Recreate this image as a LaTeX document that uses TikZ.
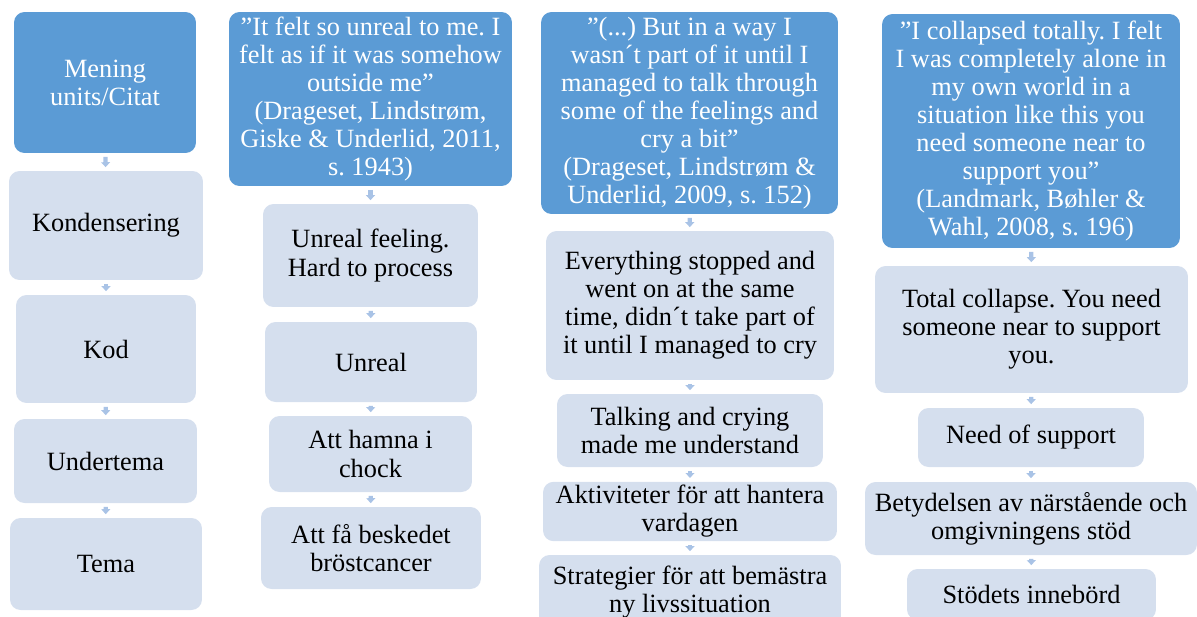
\documentclass[tikz,border=0pt]{standalone}
\usepackage{fontspec}
\setmainfont{Liberation Serif}
\usetikzlibrary{arrows.meta}
\definecolor{quotefill}{HTML}{5B9BD5}
\definecolor{stagefill}{HTML}{D5DFEE}
\definecolor{flowfill}{HTML}{A9C3E6}
\frenchspacing
\begin{document}
\begin{tikzpicture}[
  x=0.02cm, y=-0.02cm,
  every node/.style={font=\fontsize{15}{16}\selectfont, align=center, inner sep=2pt},
  quotebox/.style={rounded corners=6pt, fill=quotefill, text=white},
  stagebox/.style={rounded corners=6pt, fill=stagefill, text=black},
  flow/.style={draw=flowfill, line width=2.4pt, -{Triangle[length=2.8pt, width=5pt]},
    shorten <=2pt, shorten >=2pt},
]
  \useasboundingbox (0,0) rectangle (1197,616);
  \clip (0,0) rectangle (1197,616);
  % Steps of the analysis
  \node[quotebox, minimum width=3.64cm, minimum height=2.82cm] (men) at (105,82.5) {Mening\\units/Citat};
  \node[stagebox, minimum width=3.88cm, minimum height=2.18cm] (kon) at (106,225.5) {Kondensering};
  \node[stagebox, minimum width=3.60cm, minimum height=2.16cm] (kod) at (106,349) {Kod};
  \node[stagebox, minimum width=3.66cm, minimum height=1.68cm] (und) at (105.5,461) {Undertema};
  \node[stagebox, minimum width=3.84cm, minimum height=1.84cm] (tem) at (106,564) {Tema};
  % First quote
  \node[quotebox, minimum width=5.66cm, minimum height=3.48cm] (q1) at (370.5,99)
    {”It felt so unreal to me. I\\felt as if it was somehow\\outside me”\\(Drageset, Lindstrøm,\\Giske \& Underlid, 2011,\\s. 1943)};
  \node[stagebox, minimum width=4.30cm, minimum height=2.06cm] (c1) at (370.5,255.5) {Unreal feeling.\\Hard to process};
  \node[stagebox, minimum width=4.24cm, minimum height=1.60cm] (k1) at (371,362) {Unreal};
  \node[stagebox, minimum width=4.06cm, minimum height=1.52cm] (u1) at (370.5,454) {Att hamna i\\chock};
  \node[stagebox, minimum width=4.40cm, minimum height=1.64cm] (t1) at (371,548) {Att få beskedet\\bröstcancer};
  % Second quote
  \node[quotebox, minimum width=5.94cm, minimum height=4.04cm] (q2) at (689.5,113)
    {”(...) But in a way I\\wasn´t part of it until I\\managed to talk through\\some of the feelings and\\cry a bit”\\(Drageset, Lindstrøm \&\\Underlid, 2009, s. 152)};
  \node[stagebox, minimum width=5.76cm, minimum height=2.98cm] (c2) at (690,305.5)
    {Everything stopped and\\went on at the same\\time, didn´t take part of\\it until I managed to cry};
  \node[stagebox, minimum width=5.32cm, minimum height=1.46cm] (k2) at (690,430.5) {Talking and crying\\made me understand};
  \node[stagebox, minimum width=5.88cm, minimum height=1.18cm] (u2) at (690,511.5) {Aktiviteter för att hantera\\vardagen};
  \node[stagebox, minimum width=6.04cm, minimum height=1.50cm] (t2) at (690,592.5) {Strategier för att bemästra\\ny livssituation};
  % Third quote
  \node[quotebox, minimum width=5.96cm, minimum height=4.68cm] (q3) at (1031,131)
    {”I collapsed totally. I felt\\I was completely alone in\\my own world in a\\situation like this you\\need someone near to\\support you”\\(Landmark, Bøhler \&\\Wahl, 2008, s. 196)};
  \node[stagebox, minimum width=6.26cm, minimum height=2.54cm] (c3) at (1031.5,329.5) {Total collapse. You need\\someone near to support\\you.};
  \node[stagebox, minimum width=4.52cm, minimum height=1.18cm] (k3) at (1031,437.5) {Need of support};
  \node[stagebox, minimum width=6.64cm, minimum height=1.46cm] (u3) at (1031,518.5) {Betydelsen av närstående och\\omgivningens stöd};
  \node[stagebox, minimum width=4.98cm, minimum height=1.02cm] (t3) at (1031.5,594.5) {Stödets innebörd};
  % Arrows
  \draw[flow] (men) -- (kon);
  \draw[flow] (kon) -- (kod);
  \draw[flow] (kod) -- (und);
  \draw[flow] (und) -- (tem);
  \draw[flow] (q1) -- (c1);
  \draw[flow] (c1) -- (k1);
  \draw[flow] (k1) -- (u1);
  \draw[flow] (u1) -- (t1);
  \draw[flow] (q2) -- (c2);
  \draw[flow] (c2) -- (k2);
  \draw[flow] (k2) -- (u2);
  \draw[flow] (u2) -- (t2);
  \draw[flow] (q3) -- (c3);
  \draw[flow] (c3) -- (k3);
  \draw[flow] (k3) -- (u3);
  \draw[flow] (u3) -- (t3);
\end{tikzpicture}
\end{document}
